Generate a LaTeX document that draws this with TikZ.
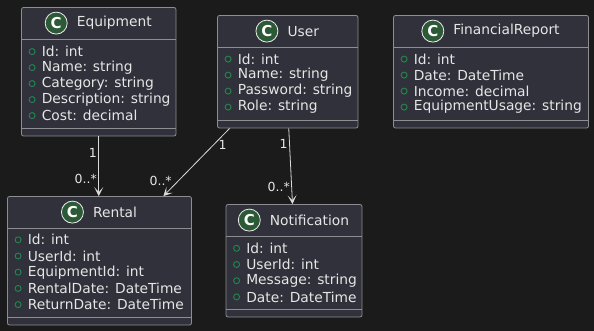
\documentclass[tikz,border=0pt]{standalone}
\usepackage{fontspec}
\setmainfont{DejaVu Sans}
\usetikzlibrary{arrows.meta, positioning, calc}

\definecolor{bg_gray}{HTML}{1B1B1B}
\definecolor{box_fill}{HTML}{30313A}
\definecolor{box_line}{HTML}{8E8E92}
\definecolor{text_gray}{HTML}{E6E6E6}
\definecolor{badge_green}{HTML}{2C5A37}
\definecolor{field_green}{HTML}{1F8A4E}
\definecolor{link_gray}{HTML}{DADADA}

\begin{document}
\begin{tikzpicture}[
    x=1pt, y=-1pt,
    class_box/.style={draw=box_line, fill=box_fill, rounded corners=2pt, line width=0.8pt, inner sep=0pt},
    sep_line/.style={box_line, line width=0.8pt},
    title_style/.style={inner sep=0pt, text=text_gray, font=\fontsize{13.8}{16}\selectfont},
    badge_style/.style={circle, draw=text_gray!70, fill=badge_green, line width=0.8pt, minimum size=22pt, inner sep=0pt,
        text=white, font=\fontsize{15}{16}\selectfont\bfseries},
    field_style/.style={anchor=west, inner sep=0pt, text=text_gray, font=\fontsize{13.8}{16}\selectfont},
    dot_style/.style={circle, draw=field_green, line width=0.9pt, minimum size=6pt, inner sep=0pt},
    link_style/.style={link_gray, line width=0.8pt, -{Stealth[length=9pt, width=9pt, inset=5pt]}},
    mult_style/.style={inner sep=1.5pt, text=text_gray, font=\fontsize{12.5}{14}\selectfont}
]

    % Background
    \fill[bg_gray] (0,0) rectangle (594,331);
    \useasboundingbox (0,0) rectangle (594,331);

    % Class boxes
    \node[class_box, minimum width=154.5pt, minimum height=128.5pt] (equipment) at (98.75,71.75) {};
    \node[class_box, minimum width=140.5pt, minimum height=112.5pt] (user) at (287.75,71.75) {};
    \node[class_box, minimum width=195pt, minimum height=112.5pt] (report) at (491,71.75) {};
    \node[class_box, minimum width=184pt, minimum height=128.5pt] (rental) at (99.5,260.75) {};
    \node[class_box, minimum width=136pt, minimum height=112.5pt] (notification) at (294,260.75) {};

    % Titles and compartments
    \foreach \cls/\title in {equipment/Equipment, user/User, report/FinancialReport,
                             rental/Rental, notification/Notification} {
        \node[title_style] (\cls_title) at ($(\cls.north)+(15.5,16)$) {\title};
        \node[badge_style, left=9pt of \cls_title] (\cls_badge) {C};
        \draw[sep_line] ($(\cls.north west)+(0,32)$) -- ($(\cls.north east)+(0,32)$);
        \draw[sep_line] ($(\cls.south west)+(0,-8)$) -- ($(\cls.south east)+(0,-8)$);
    }

    % Fields
    \foreach \f [count=\i] in {Id: int, Name: string, Category: string, Description: string, Cost: decimal} {
        \node[dot_style] (equipment_dot\i) at ($(equipment.north west)+(11,28.5+16*\i)$) {};
        \node[field_style] (equipment_f\i) at ($(equipment.north west)+(20.5,28.5+16*\i)$) {\f};
    }
    \foreach \f [count=\i] in {Id: int, Name: string, Password: string, Role: string} {
        \node[dot_style] (user_dot\i) at ($(user.north west)+(11,28+16*\i)$) {};
        \node[field_style] (user_f\i) at ($(user.north west)+(20.5,28+16*\i)$) {\f};
    }
    \foreach \f [count=\i] in {Id: int, Date: DateTime, Income: decimal, EquipmentUsage: string} {
        \node[dot_style] (report_dot\i) at ($(report.north west)+(11,28+16*\i)$) {};
        \node[field_style] (report_f\i) at ($(report.north west)+(20.5,28+16*\i)$) {\f};
    }
    \foreach \f [count=\i] in {Id: int, UserId: int, EquipmentId: int, RentalDate: DateTime, ReturnDate: DateTime} {
        \node[dot_style] (rental_dot\i) at ($(rental.north west)+(11,27.5+16.2*\i)$) {};
        \node[field_style] (rental_f\i) at ($(rental.north west)+(20.5,27.5+16.2*\i)$) {\f};
    }
    \foreach \f [count=\i] in {Id: int, UserId: int, Message: string, Date: DateTime} {
        \node[dot_style] (notification_dot\i) at ($(notification.north west)+(11,28+16.2*\i)$) {};
        \node[field_style] (notification_f\i) at ($(notification.north west)+(20.5,28+16.2*\i)$) {\f};
    }

    % Associations
    \draw[link_style] (equipment.south) -- (equipment.south |- rental.north)
        node[mult_style, pos=0.28, left] {1}
        node[mult_style, pos=0.72, left] {0..*};
    \draw[link_style] ([xshift=12.5pt]user.south west) -- ([xshift=-28.5pt]rental.north east)
        node[mult_style, pos=0.24, right=3pt] {1}
        node[mult_style, pos=0.77, left=5pt] {0..*};
    \draw[link_style] ([xshift=1pt]user.south) -- ([xshift=-1.5pt]notification.north)
        node[mult_style, pos=0.2, left] {1}
        node[mult_style, pos=0.78, left] {0..*};

\end{tikzpicture}
\end{document}
